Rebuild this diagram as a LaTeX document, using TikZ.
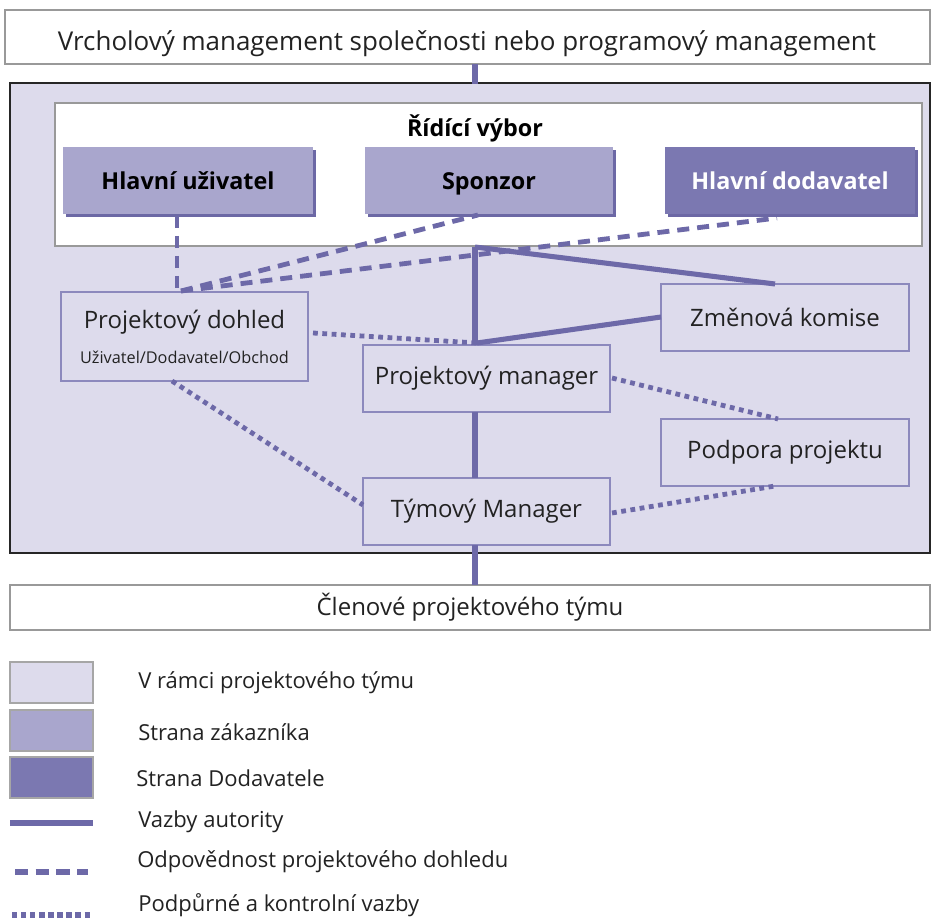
\documentclass[tikz,border=0pt]{standalone}
\usepackage{fontspec}
\setmainfont{Open Sans}
\usetikzlibrary{shadows}
\definecolor{teambg}{HTML}{DDDBEC}
\definecolor{custc}{HTML}{A9A6CD}
\definecolor{suppc}{HTML}{7B78B1}
\definecolor{linkc}{HTML}{6D69A8}
\definecolor{edgec}{HTML}{8C89BD}
\definecolor{shadc}{HTML}{6C68A5}
\definecolor{txtc}{HTML}{222222}
\tikzset{
  box/.style={draw=edgec, line width=1pt, fill=teambg, inner sep=0pt, text=txtc,
    font=\fontsize{18}{21}\selectfont, align=center},
  wbox/.style={draw=gray!80, line width=1pt, fill=white, inner sep=0pt, text=txtc},
  board/.style={draw=none, fill=custc, inner sep=0pt, text=black,
    font=\bfseries\fontsize{17.5}{20}\selectfont, text height=16pt, text depth=3pt,
    drop shadow={shadow xshift=2.2pt, shadow yshift=-2.2pt, fill=shadc, opacity=1}},
  authority/.style={draw=linkc, line width=3.8pt},
  overseer/.style={draw=linkc, line width=3.6pt, dash pattern=on 9pt off 6pt},
  support/.style={draw=linkc, line width=3.6pt, dash pattern=on 3.6pt off 3.4pt},
  legtext/.style={anchor=west, text=txtc, font=\fontsize{16.5}{19}\selectfont, inner sep=0pt}
}
\begin{document}
\begin{tikzpicture}[x=0.75pt,y=-0.75pt]
\useasboundingbox (0,0) rectangle (936,920);
\fill[white] (0,0) rectangle (936,920);

% top level and project frame
\node[wbox, minimum width=925*0.75pt, minimum height=54*0.75pt] (top) at (467.5,37) {};
\node[text=txtc, inner sep=0pt, font=\fontsize{18}{21}\selectfont] (topt) at (467,44)
  {\resizebox{818\dimexpr0.75pt\relax}{!}{Vrcholový management společnosti nebo programový management}};
\node[draw=black!85, line width=1.6pt, fill=teambg, inner sep=0pt,
  minimum width=920*0.75pt, minimum height=470*0.75pt] (frame) at (470,318) {};
\node[wbox, minimum width=920*0.75pt, minimum height=45*0.75pt,
  font=\fontsize{18}{21}\selectfont] (members) at (470,607.5) {Členové projektového týmu};

% steering committee
\node[wbox, minimum width=867*0.75pt, minimum height=143*0.75pt] (board) at (488.5,174.5) {};
\node[text=black, font=\bfseries\fontsize{17.5}{20}\selectfont, inner sep=0pt] (boardt) at (475,128) {Řídící výbor};
\node[board, minimum width=250*0.75pt, minimum height=67*0.75pt] (user) at (188,180.5) {Hlavní uživatel};
\node[board, minimum width=248*0.75pt, minimum height=67*0.75pt] (sponsor) at (489,180.5) {Sponzor};
\node[board, fill=suppc, text=white, minimum width=250*0.75pt, minimum height=67*0.75pt] (supplier) at (790,180.5) {Hlavní dodavatel};

% project team roles
\node[box, minimum width=248*0.75pt, minimum height=67*0.75pt] (change) at (785,317.5) {Změnová komise};
\node[box, minimum width=247*0.75pt, minimum height=89*0.75pt] (assurance) at (184.5,336.5) {};
\node[text=txtc, font=\fontsize{18}{21}\selectfont, inner sep=0pt] (assurancet) at (184.5,322) {Projektový dohled};
\node[text=txtc, font=\fontsize{12.2}{14}\selectfont, inner sep=0pt] (assurances) at (184.5,357) {Uživatel/Dodavatel/Obchod};
\node[box, minimum width=247*0.75pt, minimum height=67*0.75pt] (pm) at (486.5,378.5) {Projektový manager};
\node[box, minimum width=248*0.75pt, minimum height=67*0.75pt] (support) at (785,452.5) {Podpora projektu};
\node[box, minimum width=247*0.75pt, minimum height=67*0.75pt] (tm) at (486.5,511.5) {Týmový Manager};

% junction points
\coordinate (topfoot) at (475,64);
\coordinate (framehead) at (475,84);
\coordinate (hub) at (475,247);
\coordinate (pmtop) at (475,345);
\coordinate (pmcorner) at (477,343);
\coordinate (chtop) at (775,284);
\coordinate (chwest) at (661,317);
\coordinate (pmfoot) at (475,412);
\coordinate (tmtop) at (475,478);
\coordinate (tmfoot) at (475,545);
\coordinate (memtop) at (475,585);
\coordinate (userfoot) at (177,216);
\coordinate (asstop) at (177,292);
\coordinate (assnode) at (181,291);
\coordinate (spfoot) at (478,215);
\coordinate (supfoot) at (777,218);
\coordinate (asseast) at (313,333);
\coordinate (assfoot) at (172,381);
\coordinate (tmwest) at (363,505);
\coordinate (pmeast) at (612,378);
\coordinate (sptop) at (778,419);
\coordinate (tmeast) at (612,513);
\coordinate (spbot) at (775,486);

% authority links
\draw[authority] (topfoot) -- (framehead);
\draw[authority] (hub) -- (pmtop);
\draw[authority] (hub) -- (chtop);
\draw[authority] (pmcorner) -- (chwest);
\draw[authority] (pmfoot) -- (tmtop);
\draw[authority] (tmfoot) -- (memtop);

% project assurance links
\draw[overseer] (userfoot) -- (asstop);
\draw[overseer] (assnode) -- (spfoot);
\draw[overseer] (assnode) -- (supfoot);

% support and control links
\draw[support] (asseast) -- (pmcorner);
\draw[support] (assfoot) -- (tmwest);
\draw[support] (pmeast) -- (sptop);
\draw[support] (tmeast) -- (spbot);

% legend
\node[draw=gray!70, line width=0.8pt, fill=teambg, minimum width=83*0.75pt, minimum height=41*0.75pt, inner sep=0pt] (sw1) at (51.5,682.5) {};
\node[draw=gray!70, line width=0.8pt, fill=custc, minimum width=83*0.75pt, minimum height=41*0.75pt, inner sep=0pt] (sw2) at (51.5,730.5) {};
\node[draw=gray!70, line width=0.8pt, fill=suppc, minimum width=83*0.75pt, minimum height=41*0.75pt, inner sep=0pt] (sw3) at (51.5,777.5) {};
\coordinate (l1a) at (10,823); \coordinate (l1b) at (93,823);
\coordinate (l2a) at (15,872); \coordinate (l2b) at (88,872);
\coordinate (l3a) at (12,915); \coordinate (l3b) at (90,915);
\draw[authority, line width=4.4pt] (l1a) -- (l1b);
\draw[overseer, line width=4pt, dash pattern=on 10pt off 5.5pt] (l2a) -- (l2b);
\draw[support, line width=4pt, dash pattern=on 4pt off 2.8pt] (l3a) -- (l3b);
\node[legtext] (t1) at (138,683) {V rámci projektového týmu};
\node[legtext] (t2) at (138,732) {Strana zákazníka};
\node[legtext] (t3) at (136,778) {Strana Dodavatele};
\node[legtext] (t4) at (138,822) {Vazby autority};
\node[legtext] (t5) at (137,862) {Odpovědnost projektového dohledu};
\node[legtext] (t6) at (138,905) {Podpůrné a kontrolní vazby};
\end{tikzpicture}
\end{document}
